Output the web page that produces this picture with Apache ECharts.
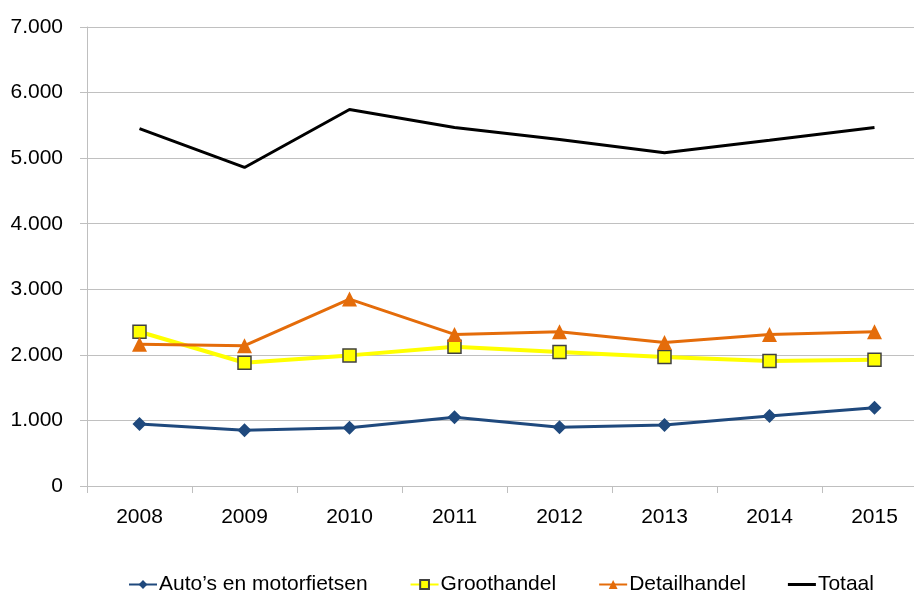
<!DOCTYPE html>
<html>
<head>
<meta charset="utf-8">
<script src="https://cdn.jsdelivr.net/npm/echarts@6/dist/echarts.min.js"></script>
<style>
  html, body { margin: 0; padding: 0; background: #fff; }
  #main { width: 914px; height: 597px; }
</style>
</head>
<body>
<div id="main"></div>
<script>
// jaren en waarden
var jaren = ['2008', '2009', '2010', '2011', '2012', '2013', '2014', '2015']
var autos = [945, 849, 889, 1047, 895, 930, 1067, 1194]
var groothandel = [2352, 1880, 1992, 2124, 2043, 1966, 1905, 1926]
var detailhandel = [2160, 2139, 2851, 2312, 2352, 2190, 2312, 2352]
var totaal = [5450, 4858, 5742, 5468, 5285, 5081, 5273, 5468]

var myChart = echarts.init(document.getElementById('main'))

// 7000 -> "7.000"
function puntFormat (v) {
  return String(v).replace(/\B(?=(\d{3})+(?!\d))/g, '.')
}

var font = '"Liberation Sans", Arial, sans-serif'

var option = {
  animation: false,
  textStyle: { fontFamily: font },
  grid: {
    left: 87,
    width: 840,
    top: 27,
    bottom: 111,
    outerBoundsMode: 'none'
  },
  legend: {
    left: 128,
    top: 574,
    padding: 0,
    itemWidth: 28,
    itemHeight: 11,
    itemGap: 42,
    textStyle: { fontSize: 21, color: '#000', fontFamily: font, padding: [0, 0, 0, -3] },
    data: [
      'Auto’s en motorfietsen',
      'Groothandel',
      'Detailhandel',
      // alleen een lijn, geen marker
      { name: 'Totaal', icon: 'path://M0,0 L28,0 L28,3 L0,3 Z' }
    ]
  },
  xAxis: {
    type: 'category',
    data: jaren,
    boundaryGap: true,
    axisLine: { lineStyle: { color: '#BFBFBF', width: 1 } },
    axisTick: { show: true, length: 7, lineStyle: { color: '#BFBFBF' } },
    axisLabel: { fontSize: 21, color: '#000', margin: 21, fontFamily: font },
    splitLine: { show: false }
  },
  yAxis: {
    type: 'value',
    min: 0,
    max: 7000,
    interval: 1000,
    axisLine: { show: true, lineStyle: { color: '#BFBFBF', width: 1 } },
    axisTick: { show: true, length: 7, lineStyle: { color: '#BFBFBF' } },
    axisLabel: { fontSize: 21, color: '#000', margin: 24, fontFamily: font, formatter: puntFormat },
    splitLine: { lineStyle: { color: '#C0C0C0', width: 1 } }
  },
  series: [
    {
      name: 'Auto’s en motorfietsen',
      type: 'line',
      data: autos,
      symbol: 'diamond',
      symbolSize: 14,
      color: '#1F497D',
      lineStyle: { width: 3, color: '#1F497D' },
      itemStyle: { color: '#1F497D' }
    },
    {
      name: 'Groothandel',
      type: 'line',
      data: groothandel,
      symbol: 'rect',
      symbolSize: 13,
      color: '#FFFF00',
      lineStyle: { width: 4, color: '#FFFF00' },
      itemStyle: { color: '#FFFF00', borderColor: '#404040', borderWidth: 1.5 }
    },
    {
      name: 'Detailhandel',
      type: 'line',
      data: detailhandel,
      symbol: 'triangle',
      symbolSize: 15,
      color: '#E46C0A',
      lineStyle: { width: 3, color: '#E46C0A' },
      itemStyle: { color: '#E46C0A' }
    },
    {
      name: 'Totaal',
      type: 'line',
      data: totaal,
      symbol: 'none',
      color: '#000',
      lineStyle: { width: 3, color: '#000' }
    }
  ]
}

myChart.setOption(option)
</script>
</body>
</html>
